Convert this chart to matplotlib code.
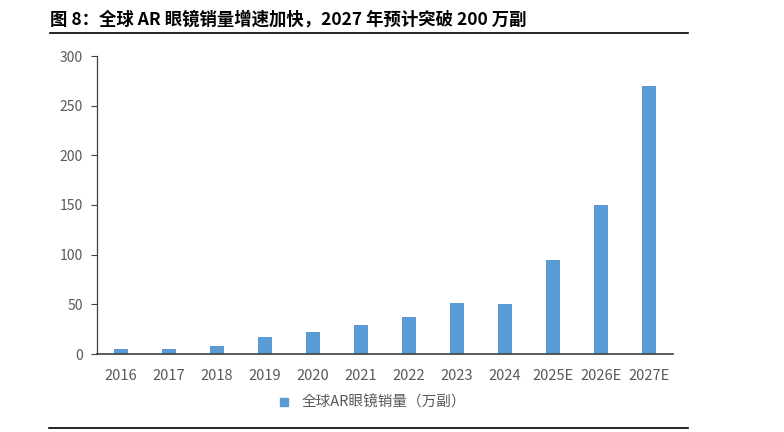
import matplotlib
matplotlib.use("Agg")
from matplotlib import pyplot as plt
from matplotlib.lines import Line2D

plt.rcParams['font.family'] = ['Noto Sans CJK SC', 'DejaVu Sans']

years = ["2016", "2017", "2018", "2019", "2020", "2021", "2022", "2023", "2024", "2025E", "2026E", "2027E"]
sales = [5, 5, 8, 17, 22, 29, 37, 51, 50, 95, 150, 270]
yticks = [0, 50, 100, 150, 200, 250, 300]

title = "图 8：全球 AR 眼镜销量增速加快，2027 年预计突破 200 万副"
series_name = "全球AR眼镜销量（万副）"

BAR_COLOR = "#5B9BD5"
TICK_COLOR = "#595959"

fig = plt.figure(figsize=(7.84, 4.32), dpi=100)
ax = fig.add_axes([97/784, 1 - 354/432, 576/784, 298/432])

x = range(len(years))
ax.bar(x, sales, width=0.31, color=BAR_COLOR, label=series_name)

ax.set_xlim(-0.5, len(years) - 0.5)
ax.set_ylim(0, 300)
ax.set_yticks(yticks)
ax.set_xticks(list(x))
ax.set_xticklabels(years)

for s in ["top", "right"]:
    ax.spines[s].set_visible(False)
ax.spines["left"].set_color("#404040")
ax.spines["bottom"].set_color("#404040")
ax.spines["left"].set_linewidth(0.9)
ax.spines["bottom"].set_linewidth(1.2)
ax.tick_params(axis="y", direction="out", length=4, width=0.8, color="#404040",
               labelsize=10, labelcolor=TICK_COLOR, pad=6)
ax.tick_params(axis="x", length=0, labelsize=10.5, labelcolor=TICK_COLOR, pad=11)

# legend below the axis
handle = Line2D([], [], marker="s", linestyle="none", color=BAR_COLOR, markersize=6)
fig.legend([handle], [series_name], loc="center", bbox_to_anchor=(368/784, 1 - 403/432),
           frameon=False, fontsize=10.5, handletextpad=0.2, labelcolor=TICK_COLOR)

# title and rules
fig.text(50/784, 1 - 20/432, title, fontsize=12.5, fontweight="bold", va="center", ha="left")
fig.add_artist(Line2D([50/784, 688/784], [1 - 33/432, 1 - 33/432], color="black", linewidth=1.2))
fig.add_artist(Line2D([49/784, 688/784], [1 - 428/432, 1 - 428/432], color="black", linewidth=1.2))

fig.savefig("out.png", dpi=100)
